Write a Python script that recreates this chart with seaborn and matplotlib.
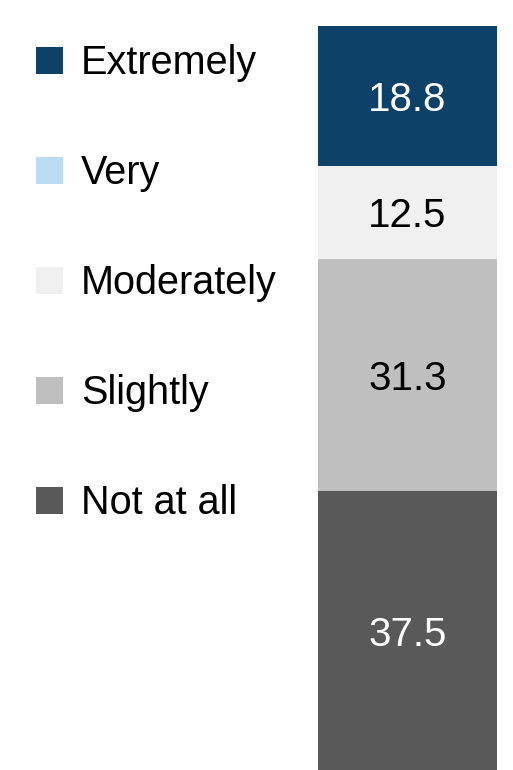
import matplotlib
matplotlib.use("Agg")
import matplotlib.pyplot as plt
from matplotlib.patches import Patch
import seaborn as sns

# Response shares (percent), top of the bar to the bottom
categories = ["Extremely", "Very", "Moderately", "Slightly", "Not at all"]
shares = [18.8, 0.0, 12.5, 31.3, 37.5]
colors = ["#0e4168", "#bcdcf4", "#f0f0f0", "#bfbfbf", "#595959"]
label_colors = ["white", "black", "black", "black", "white"]

sns.set_theme(style="white")
plt.rcParams["font.family"] = ["Liberation Sans", "DejaVu Sans"]
plt.rcParams["text.color"] = "black"

fig = plt.figure(figsize=(5.13, 7.70), dpi=100)
ax = fig.add_axes([318 / 513, 0.0, 179 / 513, 744 / 770])

# Stack from the bottom segment ("Not at all") upward
bottom = 0.0
for cat, val, col, lc in reversed(list(zip(categories, shares, colors, label_colors))):
    sns.barplot(x=["All"], y=[val], bottom=bottom, color=col, width=1.0,
                saturation=1, ax=ax, linewidth=0)
    cont = ax.containers[-1]
    if val > 0:
        texts = ax.bar_label(cont, labels=[f"{val:.1f}"], label_type="center",
                             color=lc, fontsize=29)
        for t in texts:
            t.set_verticalalignment("center_baseline")
    bottom += val

ax.set_xlim(-0.5, 0.5)
ax.set_ylim(0, sum(shares))
ax.set_axis_off()

handles = [Patch(facecolor=c, edgecolor="none") for c in colors]
fig.legend(handles, categories, loc="upper left",
           bbox_to_anchor=(36 / 513, 1 - 44 / 770),
           frameon=False, fontsize=28.5, borderpad=0, borderaxespad=0,
           handlelength=0.68, handleheight=0.68, handletextpad=0.455,
           labelspacing=1.82, labelcolor="black")

fig.savefig("out.png", dpi=100)
